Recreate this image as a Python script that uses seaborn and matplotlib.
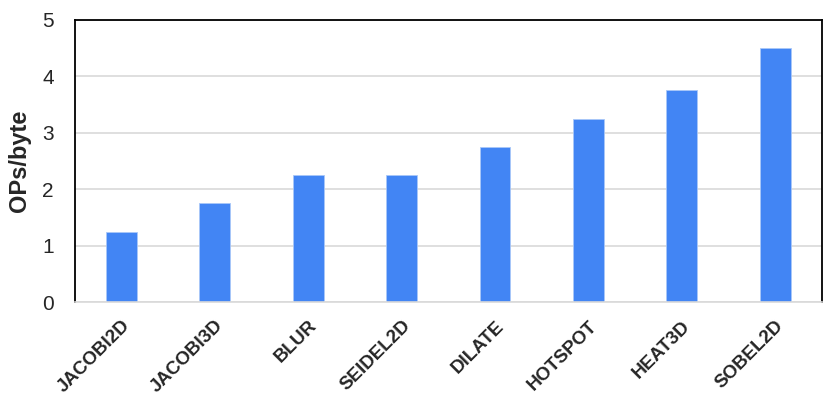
import matplotlib
matplotlib.use("Agg")
import matplotlib.pyplot as plt
import seaborn as sns
import pandas as pd

# Données du graphique
benchmarks = ["JACOBI2D", "JACOBI3D", "BLUR", "SEIDEL2D", "DILATE", "HOTSPOT", "HEAT3D", "SOBEL2D"]
ops_per_byte = [1.25, 1.75, 2.25, 2.25, 2.75, 3.25, 3.75, 4.5]

df = pd.DataFrame({"Benchmark": benchmarks, "OPs": ops_per_byte})

sns.set_style("white")
plt.rcParams["font.family"] = ["Liberation Sans", "DejaVu Sans"]

fig = plt.figure(figsize=(8.31, 3.97), dpi=100)
ax = fig.add_axes([0.090, 0.239, 0.899, 0.711])

ax.yaxis.grid(True, color="#d9d9d9", linewidth=1.2)
ax.set_axisbelow(True)
sns.barplot(data=df, x="Benchmark", y="OPs", color="#4285F4", saturation=1,
            width=0.33, edgecolor="#a9c7f8", linewidth=0.6, ax=ax)

ax.set_ylim(0, 5)
ax.set_yticks(range(0, 6))
ax.set_xlim(-0.5, len(benchmarks) - 0.5)
ax.set_ylabel("OPs/byte", fontsize=17, fontweight="bold", labelpad=8)
ax.set_xlabel("")
ax.tick_params(axis="y", labelsize=15, length=0, pad=15)
ax.tick_params(axis="x", length=0, pad=11)
for lbl in ax.get_xticklabels():
    lbl.set_rotation(45)
    lbl.set_ha("right")
    lbl.set_rotation_mode("anchor")
    lbl.set_fontsize(13.5)
    lbl.set_fontweight("bold")

for side in ["left", "top", "right"]:
    ax.spines[side].set_color("black")
    ax.spines[side].set_linewidth(1.3)
ax.spines["bottom"].set_color("#d9d9d9")
ax.spines["bottom"].set_linewidth(1.2)

fig.savefig("out.png", dpi=100)
